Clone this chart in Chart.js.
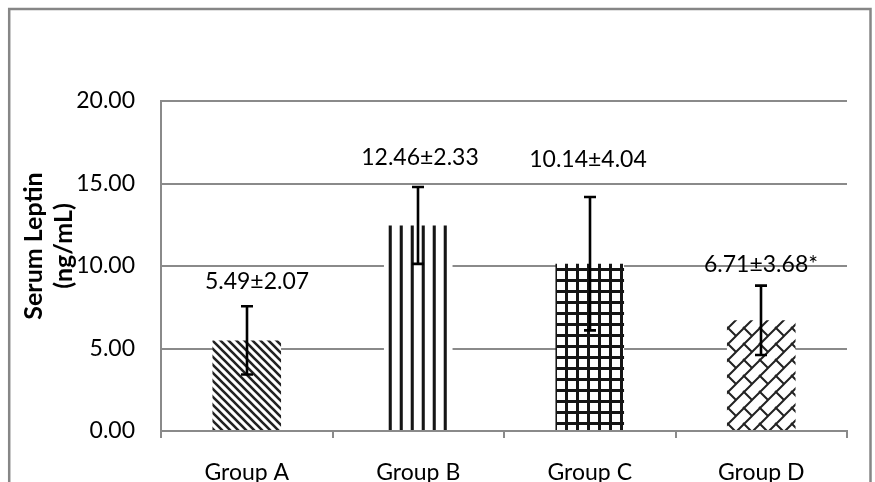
<!DOCTYPE html>
<html>
<head>
<meta charset="utf-8">
<script src="https://cdn.jsdelivr.net/npm/chart.js@4.4.0/dist/chart.umd.min.js"></script>
<style>
html, body { margin: 0; padding: 0; background: #fff; }
#wrap { width: 875px; height: 482px; }
</style>
</head>
<body>
<div id="wrap"><canvas id="leptinChart" width="875" height="482"></canvas></div>
<script>
var groups = ['Group A', 'Group B', 'Group C', 'Group D'];
var leptinMean = [5.49, 12.46, 10.14, 6.71];
// error bars as they are drawn (the D bar is drawn shorter than its label says)
var leptinErr = [2.07, 2.33, 4.04, 2.10];
var barLabels = ['5.49\u00b12.07', '12.46\u00b12.33', '10.14\u00b14.04', '6.71\u00b13.68*'];
var yTicks = [0, 5, 10, 15, 20];
var yTitle = ['Serum Leptin', '(ng/mL)'];

var gridGray = '#8a8a8a';
var fontName = 'Lato';

function makePattern(kind) {
    var c = document.createElement('canvas');
    var g = c.getContext('2d');
    var n = 8;
    if (kind == 'vert' || kind == 'grid') n = 11;
    if (kind == 'brick') n = 16;
    c.width = n;
    c.height = n;
    g.fillStyle = '#fff';
    g.fillRect(0, 0, n, n);
    g.fillStyle = '#151515';
    g.strokeStyle = '#222';
    if (kind == 'diag') {
        g.lineWidth = 2.6;
        g.beginPath();
        for (var k = -1; k <= 1; k++) {
            g.moveTo(k * n - 1, -1);
            g.lineTo(k * n + n + 1, n + 1);
        }
        g.stroke();
    } else if (kind == 'vert') {
        g.fillStyle = '#777';
        g.fillRect(3.5, 0, 3.5, n);
        g.fillStyle = '#151515';
        g.fillRect(4, 0, 2.5, n);
    } else if (kind == 'grid') {
        g.fillRect(4, 0, 3, n);
        g.fillRect(0, 4, n, 3);
    } else if (kind == 'brick') {
        g.lineWidth = 2;
        g.beginPath();
        g.moveTo(n + 1, -1); g.lineTo(-1, n + 1);
        g.moveTo(1, -1); g.lineTo(-1, 1);
        g.moveTo(n + 1, n - 1); g.lineTo(n - 1, n + 1);
        g.moveTo(n / 2 - 1, n / 2 - 1); g.lineTo(n + 1, n + 1);
        g.stroke();
    }
    return g.createPattern(c, 'repeat');
}

var fills = [makePattern('diag'), makePattern('vert'), makePattern('grid'), makePattern('brick')];

// extra room of each value label above its error bar, and sideways shift
var labelLift = [25, 29, 37, 21];
var labelShift = [10, 2, -2, 0];

var framePlugin = {
    id: 'frame',
    beforeDraw: function (chart) {
        var c = chart.ctx;
        c.save();
        c.fillStyle = '#fff';
        c.fillRect(0, 0, chart.width, chart.height);
        c.strokeStyle = '#868686';
        c.lineWidth = 2.5;
        c.strokeRect(9.2, 9, 861.3, 500);
        c.restore();
    },
    afterDraw: function (chart) {
        var c = chart.ctx;
        c.save();
        c.translate(52, 246);
        c.rotate(-Math.PI / 2);
        c.fillStyle = '#000';
        c.font = 'bold 25px ' + fontName;
        c.textAlign = 'center';
        c.textBaseline = 'alphabetic';
        c.fillText(yTitle[0], 0, -10);
        c.fillText(yTitle[1], 0, 20);
        c.restore();
    }
};

var errorPlugin = {
    id: 'errorBars',
    afterDatasetsDraw: function (chart) {
        var c = chart.ctx;
        var y = chart.scales.y;
        var meta = chart.getDatasetMeta(0);
        c.save();
        c.strokeStyle = '#000';
        c.lineWidth = 2.6;
        for (var i = 0; i < leptinMean.length; i++) {
            var x = Math.round(meta.data[i].x);
            var top = y.getPixelForValue(leptinMean[i] + leptinErr[i]);
            var bot = y.getPixelForValue(leptinMean[i] - leptinErr[i]);
            c.beginPath();
            c.moveTo(x, top);
            c.lineTo(x, bot);
            c.moveTo(x - 6, top);
            c.lineTo(x + 6, top);
            c.moveTo(x - 6, bot);
            c.lineTo(x + 6, bot);
            c.stroke();

            c.fillStyle = '#000';
            c.font = '23px ' + fontName;
            c.textAlign = 'center';
            c.textBaseline = 'middle';
            c.fillText(barLabels[i], x + labelShift[i], top - labelLift[i]);
        }
        c.restore();
    }
};

var ctx = document.getElementById('leptinChart');
var chart = new Chart(ctx, {
    type: 'bar',
    data: {
        labels: groups,
        datasets: [{
            data: leptinMean,
            backgroundColor: fills,
            borderWidth: 0,
            barPercentage: 0.4,
            categoryPercentage: 1
        }]
    },
    options: {
        responsive: false,
        animation: false,
        layout: {
            padding: { left: 61, right: 28, top: 101, bottom: 0 }
        },
        plugins: {
            legend: { display: false },
            tooltip: { enabled: false }
        },
        scales: {
            x: {
                grid: {
                    offset: true,
                    drawOnChartArea: false,
                    drawTicks: true,
                    tickLength: 7,
                    color: gridGray,
                    lineWidth: 2
                },
                border: { color: gridGray, width: 2 },
                ticks: {
                    color: '#000',
                    font: { family: fontName, size: 23 },
                    padding: 21
                },
                afterFit: function (s) { s.height = 51; }
            },
            y: {
                min: 0,
                max: 20,
                grid: { drawTicks: false, color: gridGray, lineWidth: 2 },
                border: { color: gridGray, width: 2 },
                ticks: {
                    color: '#000',
                    font: { family: fontName, size: 23 },
                    padding: 26,
                    callback: function (v) { return Number(v).toFixed(2); }
                },
                afterBuildTicks: function (s) {
                    s.ticks = yTicks.map(function (v) { return { value: v }; });
                },
                afterFit: function (s) { s.width = 100; }
            }
        }
    },
    plugins: [framePlugin, errorPlugin]
});
</script>
</body>
</html>
